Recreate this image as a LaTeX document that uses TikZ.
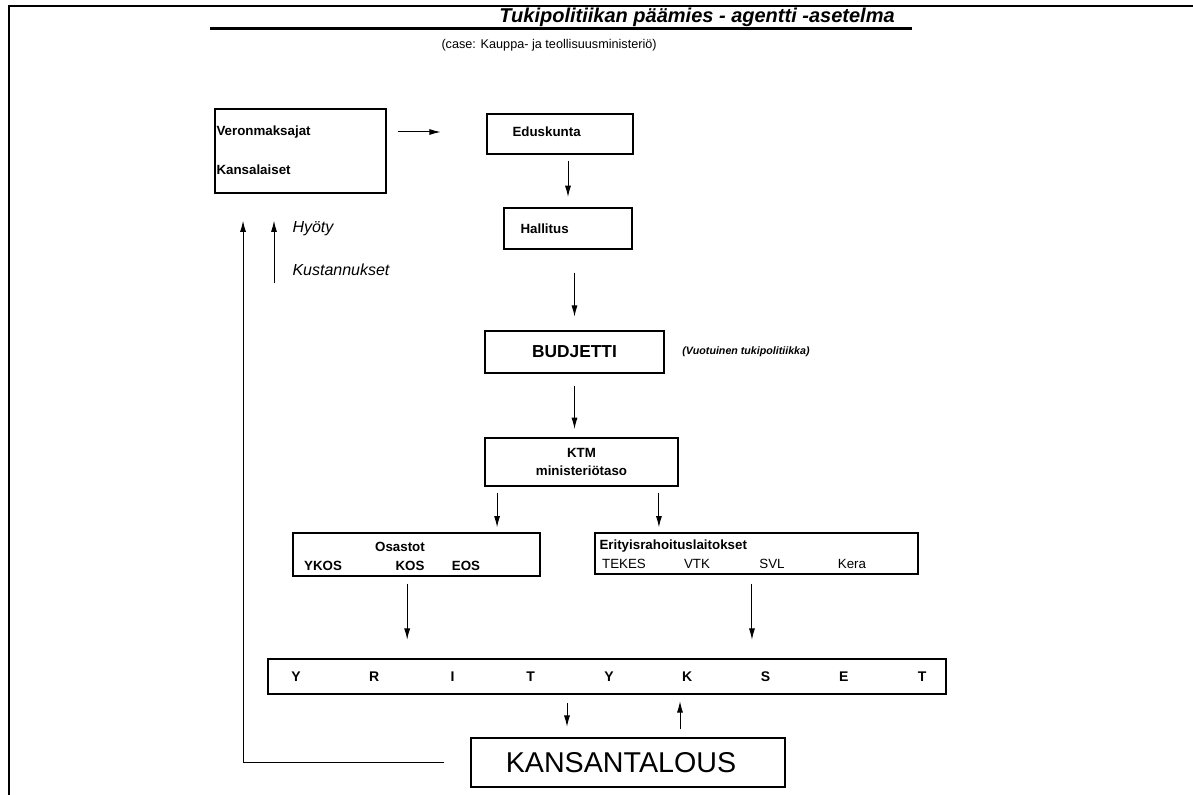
\documentclass[tikz,border=0pt]{standalone}
\usepackage{fontspec}
\setmainfont{Liberation Sans}
\usetikzlibrary{matrix,arrows,arrows.meta}

\tikzset{
  box/.style={draw, line width=1.4pt, inner sep=0pt},
  thinbox/.style={draw, line width=0.8pt, inner sep=0pt},
  lbl/.style={inner sep=0pt, font=\bfseries\fontsize{10}{11}\selectfont},
  sublbl/.style={inner sep=0pt, font=\fontsize{10}{11}\selectfont},
  note/.style={inner sep=0pt, font=\itshape\fontsize{12}{14}\selectfont},
}

\begin{document}
\begin{tikzpicture}[x=0.75pt, y=-0.75pt, >={Latex[length=8.5pt,width=4.5pt]}, line width=0.75pt]
  \useasboundingbox (0,0) rectangle (1193,795);
  % frame
  \draw[line width=1.1pt] (9,795) -- (9,6) -- (1193,6);

  % heading
  \node[inner sep=0pt, anchor=base, font=\bfseries\itshape\fontsize{15}{18}\selectfont] (title) at (697,23) {Tukipolitiikan päämies - agentti -asetelma};
  \draw[line width=1.7pt] (210,28.5) -- (912,28.5);
  \node[inner sep=0pt, anchor=west, font=\fontsize{9.5}{12}\selectfont] (sub) at (441,45) {(case: Kauppa- ja teollisuusministeriö)};

  % boxes
  \node[box, minimum width=128.3pt, minimum height=63pt] (vero) at (300.5,151) {};
  \node[lbl, anchor=west] (vtxt) at (216,132) {Veronmaksajat};
  \node[lbl, anchor=west] (ktxt) at (216,170) {Kansalaiset};

  \node[box, minimum width=109.5pt, minimum height=30pt] (edus) at (560,134) {};
  \node[lbl, anchor=west] (edtxt) at (512,132) {Eduskunta};

  \node[box, minimum width=96pt, minimum height=30.75pt] (hall) at (568,228.5) {};
  \node[lbl, anchor=west] (hatxt) at (520,229) {Hallitus};

  \node[box, minimum width=134.25pt, minimum height=31.5pt, font=\bfseries\fontsize{13}{15}\selectfont] (budj) at (574.5,352) {BUDJETTI};
  \node[inner sep=0pt, anchor=west, font=\bfseries\itshape\fontsize{8}{9}\selectfont] (vuot) at ([xshift=12.75pt]budj.east) {(Vuotuinen tukipolitiikka)};

  \node[box, minimum width=144.75pt, minimum height=36pt, align=center, font=\bfseries\fontsize{10}{14}\selectfont] (ktm) at (581.5,462) {KTM\\ministeriötaso};

  \node[box, minimum width=185.25pt, minimum height=32.25pt] (osa) at (416.5,554.5) {};
  \node[lbl] (osatxt) at (400,547) {Osastot};
  \node[lbl] (ykos) at (323,566) {YKOS};
  \node[lbl] (kos) at (410,566) {KOS};
  \node[lbl] (eos) at (466,566) {EOS};

  \node[box, minimum width=242.25pt, minimum height=30.75pt] (eri) at (756.5,553.5) {};
  \node[lbl, anchor=west] (eritxt) at (599,546) {Erityisrahoituslaitokset};
  \node[sublbl] (tekes) at (624,564) {TEKES};
  \node[sublbl] (vtk) at (697,564) {VTK};
  \node[sublbl] (svl) at (772,564) {SVL};
  \node[sublbl] (kera) at (852,564) {Kera};

  \node[thinbox, minimum width=508.5pt, minimum height=26.25pt] (yr) at (607,676.5) {};
  \matrix (yrm) [matrix of nodes, column sep=0pt, nodes={lbl, minimum width=58.7pt, font=\bfseries\fontsize{10.5}{12}\selectfont}] at (609,677)
  {
Y & R & I & T & Y & K & S & E & T \\
};

  \node[thinbox, minimum width=235.5pt, minimum height=36.75pt] (kt) at (628,762.5) {};
  \node[inner sep=0pt, font=\fontsize{21.5}{25}\selectfont] (kttxt) at (621,763) {KANSANTALOUS};

  % side notes
  \coordinate (hyo) at (274,283);
  \node[note, anchor=west] (hyoty) at (292,229) {Hyöty};
  \node[note, anchor=west] (kust) at (292,270) {Kustannukset};

  % arrows
  \path[->]
  (vero.east |- vtxt) edge [shorten <=8pt, shorten >=34pt] (edus.west |- vtxt)
  (hall.north |- edus.south) edge [shorten <=4.5pt, shorten >=7.5pt] (hall.north)
  (budj.north |- hall.south) edge [shorten <=17pt, shorten >=10pt] (budj.north)
  (budj.south) edge [shorten <=9pt, shorten >=6pt] (budj.south |- ktm.north)
  ([xshift=9.75pt]ktm.south west) edge [shorten <=4.5pt, shorten >=3.5pt] ([xshift=9.75pt]ktm.south west |- osa.north)
  ([xshift=-15pt]ktm.south east) edge [shorten <=4.5pt, shorten >=3.5pt] ([xshift=-15pt]ktm.south east |- eri.north)
  ([xshift=-7pt]osa.south) edge [shorten <=5pt, shorten >=14pt] ([xshift=-7pt]osa.south |- yr.north)
  ([xshift=-3.4pt]eri.south) edge [shorten <=6.5pt, shorten >=14pt] ([xshift=-3.4pt]eri.south |- yr.north)
  ([xshift=-30pt]yr.south) edge [shorten <=6.5pt, shorten >=8pt] ([xshift=-30pt]yr.south |- kt.north)
  ([xshift=39pt]kt.north) edge [shorten <=6pt, shorten >=5pt] ([xshift=39pt]kt.north |- yr.south)
  (hyo) edge [shorten >=20pt] (hyo |- vero.south)
  ;
  \draw[->, shorten >=20pt] ([xshift=-19.5pt]kt.west) -| ([xshift=21.75pt]vero.south west);
\end{tikzpicture}
\end{document}
